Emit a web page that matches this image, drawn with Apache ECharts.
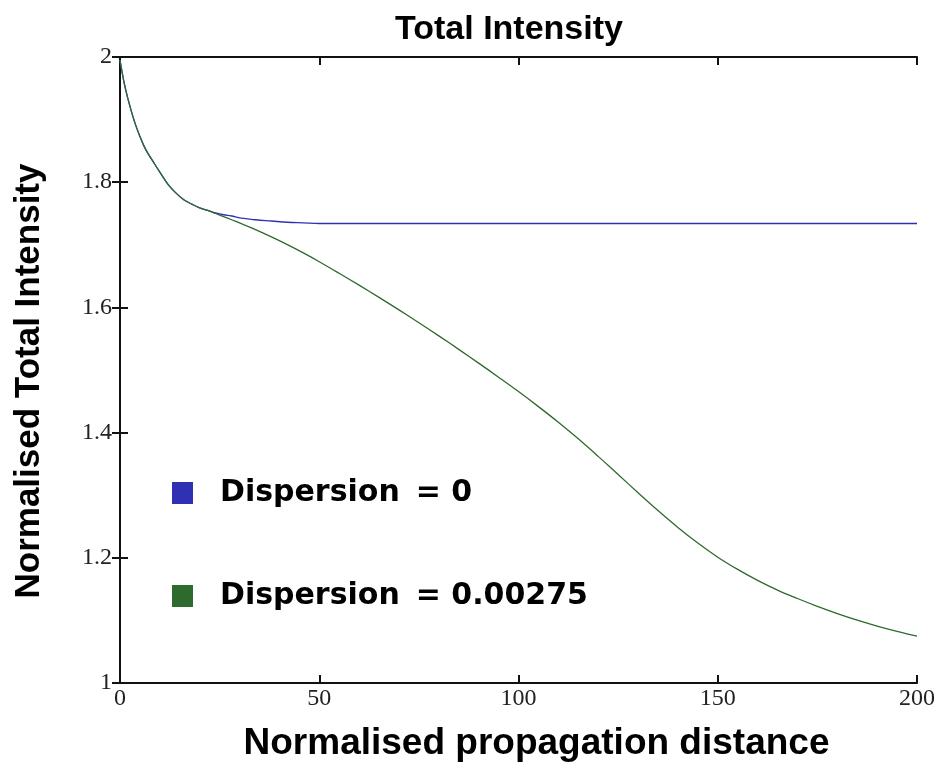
<!DOCTYPE html>
<html>
<head>
<meta charset="utf-8">
<script src="https://cdn.jsdelivr.net/npm/echarts@6/dist/echarts.min.js"></script>
<style>
  html, body { margin: 0; padding: 0; background: #fff; }
  #chart { width: 946px; height: 769px; }
</style>
</head>
<body>
<div id="chart"></div>
<script>
// Propagation distance samples
const distance = [0, 1, 2, 3, 4, 5, 6, 7, 8, 10, 12, 14, 16, 18, 20, 22, 24, 26, 28, 30,
  34, 38, 42, 46, 50, 55, 60, 65, 70, 75, 80, 85, 90, 95, 100, 105, 110, 115, 120,
  125, 130, 135, 140, 145, 150, 155, 160, 165, 170, 175, 180, 185, 190, 195, 200];

// Total intensity, no dispersion
const intensityNoDisp = [1.995, 1.960, 1.933, 1.910, 1.890, 1.873, 1.858, 1.846, 1.836, 1.816,
  1.797, 1.783, 1.772, 1.765, 1.759, 1.755, 1.751, 1.748, 1.746, 1.743,
  1.740, 1.738, 1.736, 1.735, 1.734, 1.734, 1.734, 1.734, 1.734, 1.734, 1.734, 1.734, 1.734,
  1.734, 1.734, 1.734, 1.734, 1.734, 1.734, 1.734, 1.734, 1.734, 1.734, 1.734, 1.734,
  1.734, 1.734, 1.734, 1.734, 1.734, 1.734, 1.734, 1.734, 1.734, 1.734];

// Total intensity, dispersion = 0.00275
const intensityDisp = [1.995, 1.960, 1.933, 1.910, 1.890, 1.873, 1.858, 1.846, 1.836, 1.816,
  1.797, 1.783, 1.772, 1.765, 1.759, 1.755, 1.750, 1.745, 1.740, 1.735,
  1.7242, 1.7126, 1.7002, 1.687, 1.673, 1.6545, 1.6355, 1.616, 1.596, 1.5755, 1.5545, 1.533, 1.511,
  1.4885, 1.4655, 1.4415, 1.4165, 1.390, 1.362, 1.333, 1.304, 1.2755, 1.2485, 1.2235, 1.201,
  1.1815, 1.164, 1.1485, 1.135, 1.1225, 1.111, 1.1005, 1.091, 1.0825, 1.075];

const seriesNames = ['Dispersion = 0', 'Dispersion = 0.00275'];
const seriesColors = ['#3030b4', '#2e6a2e'];

const xTicks = [0, 50, 100, 150, 200];
const yTicks = [1, 1.2, 1.4, 1.6, 1.8, 2];

const toPairs = (xs, ys) => xs.map((x, i) => [x, ys[i]]);

const tickFont = { fontFamily: 'Liberation Serif', fontSize: 24, color: '#222' };
const frameLine = { show: true, lineStyle: { color: '#111', width: 2 } };
const innerTick = { show: true, inside: true, length: 8, lineStyle: { color: '#111', width: 2 } };

const chart = echarts.init(document.getElementById('chart'));
chart.setOption({
  backgroundColor: '#fff',
  animation: false,
  title: {
    text: 'Total Intensity',
    left: 390,
    top: 8,
    textStyle: { fontFamily: 'Liberation Sans', fontWeight: 'bold', fontSize: 34, color: '#000' }
  },
  legend: {
    orient: 'vertical',
    left: 172,
    top: 478,
    padding: 0,
    itemGap: 73,
    itemWidth: 21,
    itemHeight: 22,
    icon: 'rect',
    data: seriesNames,
    formatter: name => {
      const parts = name.split(' = ');
      return '{a|' + parts[0] + '}{b|= ' + parts[1] + '}';
    },
    textStyle: {
      rich: {
        a: { fontFamily: 'DejaVu Sans', fontWeight: 'bold', fontSize: 30, color: '#000', padding: [0, 0, 0, 22] },
        b: { fontFamily: 'DejaVu Sans', fontWeight: 'bold', fontSize: 30, color: '#000', padding: [0, 0, 0, 16] }
      }
    }
  },
  grid: { left: 120, right: 29, top: 57, bottom: 86 },
  xAxis: [
    {
      type: 'value',
      min: xTicks[0],
      max: xTicks[xTicks.length - 1],
      interval: xTicks[1] - xTicks[0],
      name: 'Normalised propagation distance',
      nameLocation: 'middle',
      nameGap: 42,
      nameTextStyle: { fontFamily: 'Liberation Sans', fontWeight: 'bold', fontSize: 37, color: '#000', padding: [0, 0, 0, 36] },
      axisLine: frameLine,
      axisTick: innerTick,
      axisLabel: Object.assign({ margin: 4 }, tickFont),
      splitLine: { show: false }
    },
    {
      type: 'value',
      position: 'top',
      min: xTicks[0],
      max: xTicks[xTicks.length - 1],
      interval: xTicks[1] - xTicks[0],
      axisLine: frameLine,
      axisTick: innerTick,
      axisLabel: { show: false },
      splitLine: { show: false }
    }
  ],
  yAxis: [
    {
      type: 'value',
      min: yTicks[0],
      max: yTicks[yTicks.length - 1],
      interval: 0.2,
      name: 'Normalised Total Intensity',
      nameLocation: 'middle',
      nameGap: 73,
      nameTextStyle: { fontFamily: 'Liberation Sans', fontWeight: 'bold', fontSize: 35, color: '#000', padding: [0, 22, 0, 0] },
      axisLine: frameLine,
      axisTick: innerTick,
      axisLabel: Object.assign({ margin: 8, formatter: v => String(Math.round(v * 10) / 10) }, tickFont),
      splitLine: { show: false }
    },
    {
      type: 'value',
      position: 'right',
      min: yTicks[0],
      max: yTicks[yTicks.length - 1],
      interval: 0.2,
      axisLine: frameLine,
      axisTick: innerTick,
      axisLabel: { show: false },
      splitLine: { show: false }
    }
  ],
  series: [
    {
      name: seriesNames[0],
      type: 'line',
      xAxisIndex: 0,
      yAxisIndex: 0,
      data: toPairs(distance, intensityNoDisp),
      smooth: 0.4,
      showSymbol: false,
      color: seriesColors[0],
      lineStyle: { width: 1.3, color: seriesColors[0] }
    },
    {
      name: seriesNames[1],
      type: 'line',
      xAxisIndex: 0,
      yAxisIndex: 0,
      data: toPairs(distance, intensityDisp),
      smooth: 0.4,
      showSymbol: false,
      color: seriesColors[1],
      lineStyle: { width: 1.3, color: seriesColors[1] }
    }
  ]
});
</script>
</body>
</html>
